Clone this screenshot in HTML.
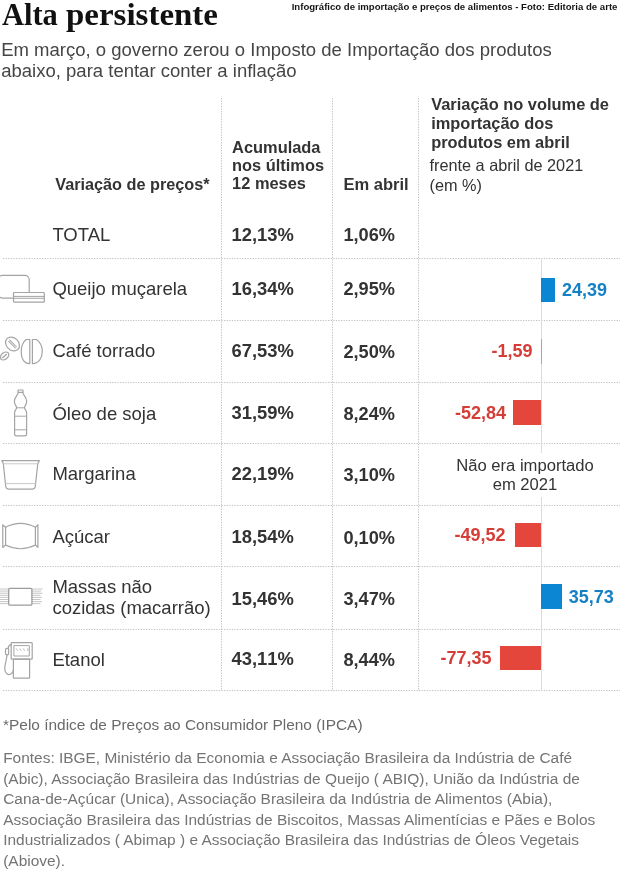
<!DOCTYPE html>
<html lang="pt-BR"><head><meta charset="utf-8"><title>Alta persistente</title>
<style>
html,body{margin:0;padding:0;background:#fff;}
body{width:620px;height:870px;position:relative;overflow:hidden;}
.t{position:absolute;white-space:nowrap;}
.nk{font-kerning:none;}
.hl{position:absolute;left:3px;width:617px;height:1px;
  background-image:linear-gradient(to right,#c6c6c6 0,#c6c6c6 1.3px,transparent 1.3px);background-size:2.6px 1px;}
.vl{position:absolute;top:98px;height:593px;width:1px;
  background-image:linear-gradient(to bottom,#c6c6c6 0,#c6c6c6 1.3px,transparent 1.3px);background-size:1px 2.6px;}
.axis{position:absolute;left:541px;top:258px;width:1px;height:433px;background:#dcdcdc;}
.bar{position:absolute;}
.pos{background:#0a86d3;}
.neg{background:#e4463c;}
.thin{background:#eb8a84;}
svg.grid{}
svg.ic{position:absolute;left:0;top:0;overflow:visible;}
</style></head><body>
<svg class="grid" width="620" height="870" style="position:absolute;left:0;top:0" fill="none"><line x1="3" y1="258.5" x2="620" y2="258.5" stroke="#c2c2c2" stroke-width="1" stroke-dasharray="1.3 1.3"/><line x1="3" y1="320.5" x2="620" y2="320.5" stroke="#c2c2c2" stroke-width="1" stroke-dasharray="1.3 1.3"/><line x1="3" y1="382.5" x2="620" y2="382.5" stroke="#c2c2c2" stroke-width="1" stroke-dasharray="1.3 1.3"/><line x1="3" y1="443.5" x2="620" y2="443.5" stroke="#c2c2c2" stroke-width="1" stroke-dasharray="1.3 1.3"/><line x1="3" y1="505.5" x2="620" y2="505.5" stroke="#c2c2c2" stroke-width="1" stroke-dasharray="1.3 1.3"/><line x1="3" y1="566.5" x2="620" y2="566.5" stroke="#c2c2c2" stroke-width="1" stroke-dasharray="1.3 1.3"/><line x1="3" y1="629.5" x2="620" y2="629.5" stroke="#c2c2c2" stroke-width="1" stroke-dasharray="1.3 1.3"/><line x1="3" y1="690.5" x2="620" y2="690.5" stroke="#c2c2c2" stroke-width="1" stroke-dasharray="1.3 1.3"/><line x1="221.5" y1="98" x2="221.5" y2="691" stroke="#c2c2c2" stroke-width="1" stroke-dasharray="1.3 1.3"/><line x1="332.5" y1="98" x2="332.5" y2="691" stroke="#c2c2c2" stroke-width="1" stroke-dasharray="1.3 1.3"/><line x1="418.5" y1="98" x2="418.5" y2="691" stroke="#c2c2c2" stroke-width="1" stroke-dasharray="1.3 1.3"/></svg>
<div class="axis"></div>
<div class="bar pos" style="left:541px;top:277.8px;width:13.6px;height:24.2px"></div>
<div class="bar neg thin" style="left:541px;top:339.3px;width:1.0px;height:24.3px"></div>
<div class="bar neg" style="left:512.9px;top:400.3px;width:28.3px;height:24.3px"></div>
<div class="bar neg" style="left:514.8px;top:523.1px;width:26.4px;height:24.2px"></div>
<div class="bar pos" style="left:541px;top:584.4px;width:20.5px;height:24.4px"></div>
<div class="bar neg" style="left:500.0px;top:646.4px;width:41.2px;height:23.6px"></div>
<div class="t" id="title" style="left:2.20px;top:-2.10px;font-size:32.00px;line-height:32.0px;font-weight:700;color:#111;font-family:'Liberation Serif', 'Times New Roman', serif;transform:scaleX(0.952);transform-origin:0 0;">Alta</div>
<div class="t" id="title2" style="left:66.00px;top:-2.10px;font-size:32.00px;line-height:32.0px;font-weight:700;color:#111;font-family:'Liberation Serif', 'Times New Roman', serif;transform:scaleX(1.03);transform-origin:0 0;">persistente</div>
<div class="t" id="credit" style="left:291.70px;top:1.71px;font-size:9.59px;line-height:9.592454px;font-weight:700;color:#151515;font-family:'Liberation Sans', Arial, sans-serif;">Infográfico de importação e preços de alimentos - Foto: Editoria de arte</div>
<div class="t" id="sub" style="left:1.20px;top:38.56px;font-size:18.53px;line-height:21.7px;font-weight:400;color:#454545;font-family:'Liberation Sans', Arial, sans-serif;">Em março, o governo zerou o Imposto de Importação dos produtos<br>abaixo, para tentar conter a inflação</div>
<div class="t" id="h1" style="left:55.20px;top:176.37px;font-size:16.26px;line-height:16.255679999999998px;font-weight:700;color:#333;font-family:'Liberation Sans', Arial, sans-serif;">Variação de preços*</div>
<div class="t" id="h2" style="left:232.10px;top:139.10px;font-size:16.40px;line-height:17.95px;font-weight:700;color:#333;font-family:'Liberation Sans', Arial, sans-serif;">Acumulada<br>nos últimos<br>12 meses</div>
<div class="t" id="h3" style="left:343.40px;top:176.80px;font-size:16.54px;line-height:16.539399999999997px;font-weight:700;color:#333;font-family:'Liberation Sans', Arial, sans-serif;">Em abril</div>
<div class="t" id="h4" style="left:431.20px;top:95.49px;font-size:16.42px;line-height:18.65px;font-weight:700;color:#333;font-family:'Liberation Sans', Arial, sans-serif;">Variação no volume de<br>importação dos<br>produtos em abril</div>
<div class="t" id="h5" style="left:429.50px;top:156.05px;font-size:16.28px;line-height:19.7px;font-weight:400;color:#333;font-family:'Liberation Sans', Arial, sans-serif;">frente a abril de 2021<br>(em %)</div>
<div class="t" id="l0" style="left:52.40px;top:226.10px;font-size:18.51px;line-height:18.505349999999996px;font-weight:400;color:#333;font-family:'Liberation Sans', Arial, sans-serif;">TOTAL</div>
<div class="t nk" id="a0" style="left:231.50px;top:226.25px;font-size:18.38px;line-height:18.381999999999998px;font-weight:700;color:#333;font-family:'Liberation Sans', Arial, sans-serif;">12,13%</div>
<div class="t nk" id="b0" style="left:343.40px;top:226.18px;font-size:18.20px;line-height:18.2px;font-weight:700;color:#333;font-family:'Liberation Sans', Arial, sans-serif;">1,06%</div>
<div class="t" id="l1" style="left:52.40px;top:279.65px;font-size:18.51px;line-height:18.505349999999996px;font-weight:400;color:#333;font-family:'Liberation Sans', Arial, sans-serif;">Queijo muçarela</div>
<div class="t nk" id="a1" style="left:231.50px;top:280.36px;font-size:18.38px;line-height:18.381999999999998px;font-weight:700;color:#333;font-family:'Liberation Sans', Arial, sans-serif;">16,34%</div>
<div class="t nk" id="b1" style="left:343.40px;top:280.31px;font-size:18.20px;line-height:18.2px;font-weight:700;color:#333;font-family:'Liberation Sans', Arial, sans-serif;">2,95%</div>
<div class="t" id="l2" style="left:52.40px;top:342.32px;font-size:18.51px;line-height:18.505349999999996px;font-weight:400;color:#333;font-family:'Liberation Sans', Arial, sans-serif;">Café torrado</div>
<div class="t nk" id="a2" style="left:231.50px;top:342.36px;font-size:18.38px;line-height:18.381999999999998px;font-weight:700;color:#333;font-family:'Liberation Sans', Arial, sans-serif;">67,53%</div>
<div class="t nk" id="b2" style="left:343.40px;top:342.51px;font-size:18.20px;line-height:18.2px;font-weight:700;color:#333;font-family:'Liberation Sans', Arial, sans-serif;">2,50%</div>
<div class="t" id="l3" style="left:52.40px;top:404.72px;font-size:18.51px;line-height:18.505349999999996px;font-weight:400;color:#333;font-family:'Liberation Sans', Arial, sans-serif;">Óleo de soja</div>
<div class="t nk" id="a3" style="left:231.50px;top:404.36px;font-size:18.38px;line-height:18.381999999999998px;font-weight:700;color:#333;font-family:'Liberation Sans', Arial, sans-serif;">31,59%</div>
<div class="t nk" id="b3" style="left:343.40px;top:404.51px;font-size:18.20px;line-height:18.2px;font-weight:700;color:#333;font-family:'Liberation Sans', Arial, sans-serif;">8,24%</div>
<div class="t" id="l4" style="left:52.40px;top:465.04px;font-size:18.51px;line-height:18.505349999999996px;font-weight:400;color:#333;font-family:'Liberation Sans', Arial, sans-serif;">Margarina</div>
<div class="t nk" id="a4" style="left:231.50px;top:465.36px;font-size:18.38px;line-height:18.381999999999998px;font-weight:700;color:#333;font-family:'Liberation Sans', Arial, sans-serif;">22,19%</div>
<div class="t nk" id="b4" style="left:343.40px;top:465.51px;font-size:18.20px;line-height:18.2px;font-weight:700;color:#333;font-family:'Liberation Sans', Arial, sans-serif;">3,10%</div>
<div class="t" id="l5" style="left:52.40px;top:528.45px;font-size:18.51px;line-height:18.505349999999996px;font-weight:400;color:#333;font-family:'Liberation Sans', Arial, sans-serif;">Açúcar</div>
<div class="t nk" id="a5" style="left:231.50px;top:528.45px;font-size:18.38px;line-height:18.381999999999998px;font-weight:700;color:#333;font-family:'Liberation Sans', Arial, sans-serif;">18,54%</div>
<div class="t nk" id="b5" style="left:343.40px;top:528.60px;font-size:18.20px;line-height:18.2px;font-weight:700;color:#333;font-family:'Liberation Sans', Arial, sans-serif;">0,10%</div>
<div class="t" id="l6" style="left:52.40px;top:577.45px;font-size:18.51px;line-height:20.8px;font-weight:400;color:#333;font-family:'Liberation Sans', Arial, sans-serif;">Massas não<br>cozidas (macarrão)</div>
<div class="t nk" id="a6" style="left:231.50px;top:589.86px;font-size:18.38px;line-height:18.381999999999998px;font-weight:700;color:#333;font-family:'Liberation Sans', Arial, sans-serif;">15,46%</div>
<div class="t nk" id="b6" style="left:343.40px;top:590.01px;font-size:18.20px;line-height:18.2px;font-weight:700;color:#333;font-family:'Liberation Sans', Arial, sans-serif;">3,47%</div>
<div class="t" id="l7" style="left:52.40px;top:650.61px;font-size:18.51px;line-height:18.505349999999996px;font-weight:400;color:#333;font-family:'Liberation Sans', Arial, sans-serif;">Etanol</div>
<div class="t nk" id="a7" style="left:231.50px;top:650.45px;font-size:18.38px;line-height:18.381999999999998px;font-weight:700;color:#333;font-family:'Liberation Sans', Arial, sans-serif;">43,11%</div>
<div class="t nk" id="b7" style="left:343.40px;top:650.60px;font-size:18.20px;line-height:18.2px;font-weight:700;color:#333;font-family:'Liberation Sans', Arial, sans-serif;">8,44%</div>
<div class="t nk" id="v1" style="left:561.90px;top:280.80px;font-size:18.00px;line-height:18.0px;font-weight:700;color:#1580c6;font-family:'Liberation Sans', Arial, sans-serif;">24,39</div>
<div class="t nk" id="v2" style="left:491.40px;top:342.30px;font-size:18.00px;line-height:18.0px;font-weight:700;color:#d53d37;font-family:'Liberation Sans', Arial, sans-serif;">-1,59</div>
<div class="t nk" id="v3" style="left:455.10px;top:404.43px;font-size:18.00px;line-height:18.0px;font-weight:700;color:#d53d37;font-family:'Liberation Sans', Arial, sans-serif;">-52,84</div>
<div class="t nk" id="v5" style="left:454.50px;top:525.98px;font-size:18.00px;line-height:18.0px;font-weight:700;color:#d53d37;font-family:'Liberation Sans', Arial, sans-serif;">-49,52</div>
<div class="t nk" id="v6" style="left:568.70px;top:588.37px;font-size:18.00px;line-height:18.0px;font-weight:700;color:#1580c6;font-family:'Liberation Sans', Arial, sans-serif;">35,73</div>
<div class="t nk" id="v7" style="left:440.40px;top:649.38px;font-size:18.00px;line-height:18.0px;font-weight:700;color:#d53d37;font-family:'Liberation Sans', Arial, sans-serif;">-77,35</div>
<div class="t" id="na" style="left:456.20px;top:455.53px;font-size:16.62px;line-height:19.6px;font-weight:400;color:#333;font-family:'Liberation Sans', Arial, sans-serif;background:#fff;text-align:center;padding:2.6px 0 2.4px;margin-top:-2.6px;">Não era importado<br>em 2021</div>
<div class="t" id="f1" style="left:3.00px;top:716.99px;font-size:15.45px;line-height:15.44885px;font-weight:400;color:#6a6a6a;font-family:'Liberation Sans', Arial, sans-serif;">*Pelo índice de Preços ao Consumidor Pleno (IPCA)</div>
<div class="t" id="f2" style="left:3.20px;top:748.31px;font-size:15.45px;line-height:20.5px;font-weight:400;color:#747474;font-family:'Liberation Sans', Arial, sans-serif;">Fontes: IBGE, Ministério da Economia e Associação Brasileira da Indústria de Café<br>(Abic), Associação Brasileira das Indústrias de Queijo ( ABIQ), União da Indústria de<br>Cana-de-Açúcar (Unica), Associação Brasileira da Indústria de Alimentos (Abia),<br>Associação Brasileira das Indústrias de Biscoitos, Massas Alimentícias e Pães e Bolos<br>Industrializados ( Abimap ) e Associação Brasileira das Indústrias de Óleos Vegetais<br>(Abiove).</div>
<svg class="ic" width="50" height="700" viewBox="0 0 50 700" fill="none" stroke="#a4a4a4" stroke-width="1.2" stroke-linejoin="round" stroke-linecap="round">
<!-- cheese -->
<rect x="-2" y="275.3" width="31.2" height="22.8" rx="4.5"/>
<rect x="13.5" y="292.5" width="30.8" height="9.7" rx="0.8" fill="#fff"/>
<path d="M13.8 296.4H44M13.8 298.3H44" stroke-width="1"/>
<!-- coffee -->
<path d="M29.8 339.5H26.2C23.4 341.5 21.2 346.5 21.2 352.2C21.2 358.6 24.2 363.6 29.8 363.6Z"/>
<path d="M32.4 339.5H36.4C39.4 341.5 42.3 346 42.3 351.6C42.3 358.4 38.6 363.6 32.4 363.6Z"/>
<g transform="translate(12.5 344) rotate(45)">
<ellipse cx="0" cy="0" rx="7.7" ry="6.1"/>
<path d="M-4.7 -0.8H4.7M-4.7 0.8H4.7" stroke-width="1"/>
</g>
<g transform="translate(4.6 356) rotate(-40)">
<ellipse cx="0" cy="0" rx="4.7" ry="3.3"/>
<path d="M-2.6 0H2.2" stroke-width="1.4"/>
</g>
<!-- bottle -->
<rect x="18" y="390" width="5" height="2.4" rx="0.4"/>
<path d="M18.2 392.4C18.2 395 14.4 397 14.4 401.5C14.4 404.5 16.6 405.8 16.6 407.7C16.6 409.5 14.6 410 14.6 413V434C14.6 435.3 15.4 435.9 16.6 435.9H24.6C25.8 435.9 26.6 435.3 26.6 434V413C26.6 410 24.5 409.5 24.5 407.7C24.5 405.8 26.7 404.5 26.7 401.5C26.7 397 22.8 395 22.8 392.4"/>
<path d="M16.8 407.8H24.3M14.6 416.2H26.6M14.6 429.8H26.6" stroke-width="1"/>
<!-- margarine tub -->
<path d="M1.8 460.6H39.4L37.8 463.4L35.3 486.3C35.1 488.1 34 489.2 32.2 489.2H8.8C7 489.2 5.9 488.1 5.7 486.3L3.3 463.4Z"/>
<path d="M3.4 463.8H37.7M5.6 483.6H35.4" stroke="#c8c8c8" stroke-width="1"/>
<!-- sugar bag -->
<path d="M2.8 525V547.2M37.9 525V547.2"/>
<path d="M5.6 527.2V545M35.4 527.2V545"/>
<path d="M2.8 525L5.6 527.2Q20.5 519.5 35.4 527.2L37.9 525M2.8 547.2L5.6 545Q20.5 552.5 35.4 545L37.9 547.2"/>
<!-- pasta -->
<path d="M0 589H8.6M0 591.1H8.6M0 593.2H8.6M0 595.3H8.6M0 597.4H8.6M0 599.5H8.6M0 601.6H8.6M0 603.6H8.6" stroke="#c0c0c0" stroke-width="0.9" stroke-linecap="butt"/>
<path d="M32 589H42.5M32 591.1H41M32 593.2H42.5M32 595.3H40.5M32 597.4H42M32 599.5H40.5M32 601.6H42M32 603.6H40.5" stroke="#c0c0c0" stroke-width="0.9" stroke-linecap="butt"/>
<rect x="8.7" y="588.3" width="23.2" height="16.8" rx="1.2" fill="#fff" stroke="#9c9c9c" stroke-width="1.3"/>
<!-- fuel pump -->
<rect x="11.2" y="642.6" width="21" height="16.6" rx="0.6"/>
<rect x="14.3" y="645.6" width="15" height="10.4" stroke-width="1"/>
<path d="M16.4 648.8L17.4 650.4M19.9 648.8L20.9 650.4M23.4 648.8L24.4 650.4M27.8 648.6V650.6" stroke-width="0.9" stroke="#b4b4b4"/>
<rect x="13.4" y="659.2" width="16.2" height="19" rx="0.6"/>
<path d="M11.2 644.6C9.2 645 8.2 646.6 8.2 648.4"/>
<rect x="5.5" y="648.4" width="3.2" height="6.4" rx="1.4"/>
<path d="M7.1 654.8C6.5 660 4.6 665 4.8 669.2C5 673.5 8.2 675.3 10.4 674.2C12 673.4 13.4 672 13.4 670"/>
</svg>

</body></html>
